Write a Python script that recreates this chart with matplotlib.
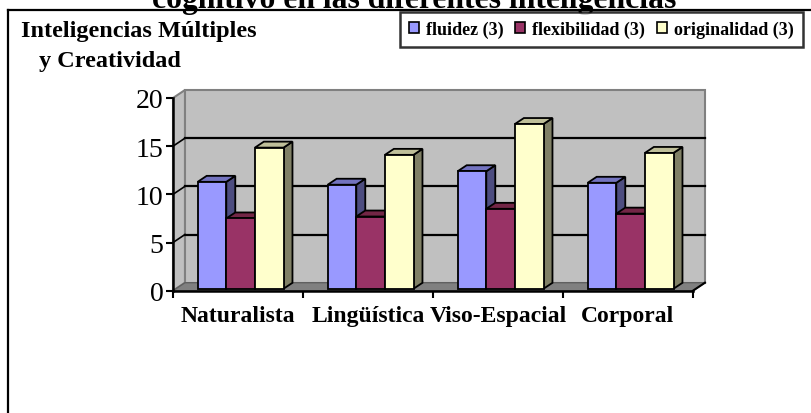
import matplotlib
matplotlib.use("Agg")
from matplotlib import pyplot as plt
from matplotlib.patches import Polygon, Rectangle, Patch
from matplotlib.lines import Line2D

categories = ["Naturalista", "Lingüística", "Viso-Espacial", "Corporal"]
fluidez = [11.3, 11.0, 12.4, 11.2]
flexibilidad = [7.5, 7.7, 8.5, 8.0]
originalidad = [14.85, 14.1, 17.3, 14.3]
series_names = ["fluidez (3)", "flexibilidad (3)", "originalidad (3)"]
y_ticks = [0, 5, 10, 15, 20]

# front, top and side shades for each series (old Excel palette)
face_colors = ["#9999FF", "#993366", "#FFFFCC"]
top_colors = ["#7373BF", "#732646", "#BFBF99"]
side_colors = ["#4D4D80", "#4D1A33", "#808066"]

serif = "Liberation Serif"
W, H = 811, 414

fig = plt.figure(figsize=(W / 100, H / 100), dpi=100)

# figure frame (only top and left edge visible)
fig.add_artist(Line2D([8 / W, 1.0], [1 - 11 / H, 1 - 11 / H], color="black", lw=1.6,
                      transform=fig.transFigure))
fig.add_artist(Line2D([8 / W, 8 / W], [0, 1 - 11 / H], color="black", lw=1.6,
                      transform=fig.transFigure))

# title is cut at the top edge, as in the original
fig.text(414 / W, 1 - 8 / H, "cognitivo en las diferentes inteligencias", ha="center",
         va="baseline", fontsize=22.8, fontweight="bold", family=serif)
fig.text(21 / W, 1 - 37 / H, "Inteligencias Múltiples", ha="left", va="baseline",
         fontsize=17.5, fontweight="bold", family=serif)
fig.text(39 / W, 1 - 67 / H, "y Creatividad", ha="left", va="baseline",
         fontsize=17.5, fontweight="bold", family=serif)

ax = fig.add_axes([173 / W, (H - 291.7) / H, 520 / W, 192.7 / H])
xmin, xmax = -0.5, 3.5
ymax = 20
ax.set_xlim(xmin, xmax)
ax.set_ylim(0, ymax)
ax.patch.set_visible(False)

# depth offsets of the walls and bars (data units)
wdx, wdy = 0.092, 0.83
fx, fy = 0.02, 0.2
bdx, bdy = 0.069, 0.62

# back wall, side wall and floor
ax.add_patch(Polygon([(xmin + wdx, wdy), (xmax + wdx, wdy), (xmax + wdx, ymax + wdy),
                      (xmin + wdx, ymax + wdy)], closed=True, facecolor="#C0C0C0",
                     edgecolor="#808080", lw=1.5, clip_on=False, zorder=1))
ax.add_patch(Polygon([(xmin, 0), (xmin + wdx, wdy), (xmin + wdx, ymax + wdy), (xmin, ymax)],
                     closed=True, facecolor="#C0C0C0", edgecolor="#808080", lw=1.5,
                     clip_on=False, zorder=1))
ax.add_patch(Polygon([(xmin, 0), (xmax, 0), (xmax + wdx, wdy), (xmin + wdx, wdy)],
                     closed=True, facecolor="#808080", edgecolor="#606060", lw=1,
                     clip_on=False, zorder=1))
ax.plot([xmax, xmax + wdx], [0, wdy], color="black", lw=1.5, clip_on=False, zorder=2)

for v in y_ticks[1:-1]:
    ax.plot([xmin + wdx, xmax + wdx], [v + wdy, v + wdy], color="black", lw=1.6,
            clip_on=False, zorder=2)
    ax.plot([xmin, xmin + wdx], [v, v + wdy], color="black", lw=1.2, clip_on=False, zorder=2)

# 3D looking bars, drawn left to right so each front face hides the previous side face
bar_w = 0.22
all_series = [fluidez, flexibilidad, originalidad]
for i in range(len(categories)):
    for j, vals in enumerate(all_series):
        x0 = i + (j - 1.5) * bar_w + fx
        y0 = fy
        h = vals[i] - fy
        x1 = x0 + bar_w
        y1 = y0 + h
        side = Polygon([(x1, y0), (x1 + bdx, y0 + bdy), (x1 + bdx, y1 + bdy), (x1, y1)],
                       closed=True, facecolor=side_colors[j], edgecolor="black", lw=1.3,
                       clip_on=False, zorder=3)
        top = Polygon([(x0, y1), (x1, y1), (x1 + bdx, y1 + bdy), (x0 + bdx, y1 + bdy)],
                      closed=True, facecolor=top_colors[j], edgecolor="black", lw=1.3,
                      clip_on=False, zorder=3)
        front = Rectangle((x0, y0), bar_w, h, facecolor=face_colors[j], edgecolor="black",
                          lw=1.3, clip_on=False, zorder=3)
        ax.add_patch(side)
        ax.add_patch(top)
        ax.add_patch(front)

for s in ["top", "right"]:
    ax.spines[s].set_visible(False)
ax.spines["left"].set_linewidth(1.8)
ax.spines["bottom"].set_linewidth(1.8)
ax.spines["left"].set_zorder(5)
ax.spines["bottom"].set_zorder(5)

ax.set_yticks(y_ticks)
ax.set_yticklabels([str(t) for t in y_ticks], family=serif, fontsize=20)
ax.tick_params(axis="y", direction="out", length=5, width=1.5, pad=2)

ax.set_xticks([xmin + k for k in range(len(categories) + 1)])
ax.set_xticklabels([])
ax.tick_params(axis="x", which="major", direction="out", length=5, width=1.5)
ax.set_xticks(range(len(categories)), minor=True)
ax.set_xticklabels(categories, minor=True, family=serif, fontsize=17, fontweight="bold")
ax.tick_params(axis="x", which="minor", length=0, pad=10)

handles = [Patch(facecolor=c, edgecolor="black", lw=1.2) for c in face_colors]
leg = fig.legend(handles, series_names, ncol=3, loc="upper right",
                 bbox_to_anchor=(803 / W, 1 - 13 / H),
                 prop={"family": serif, "weight": "bold", "size": 13},
                 frameon=True, fancybox=False, edgecolor="black",
                 handlelength=0.55, handleheight=0.55, handletextpad=0.4,
                 columnspacing=0.65, borderpad=0.5, borderaxespad=0)
leg.get_frame().set_linewidth(1.8)

fig.savefig("out.png", dpi=100)
